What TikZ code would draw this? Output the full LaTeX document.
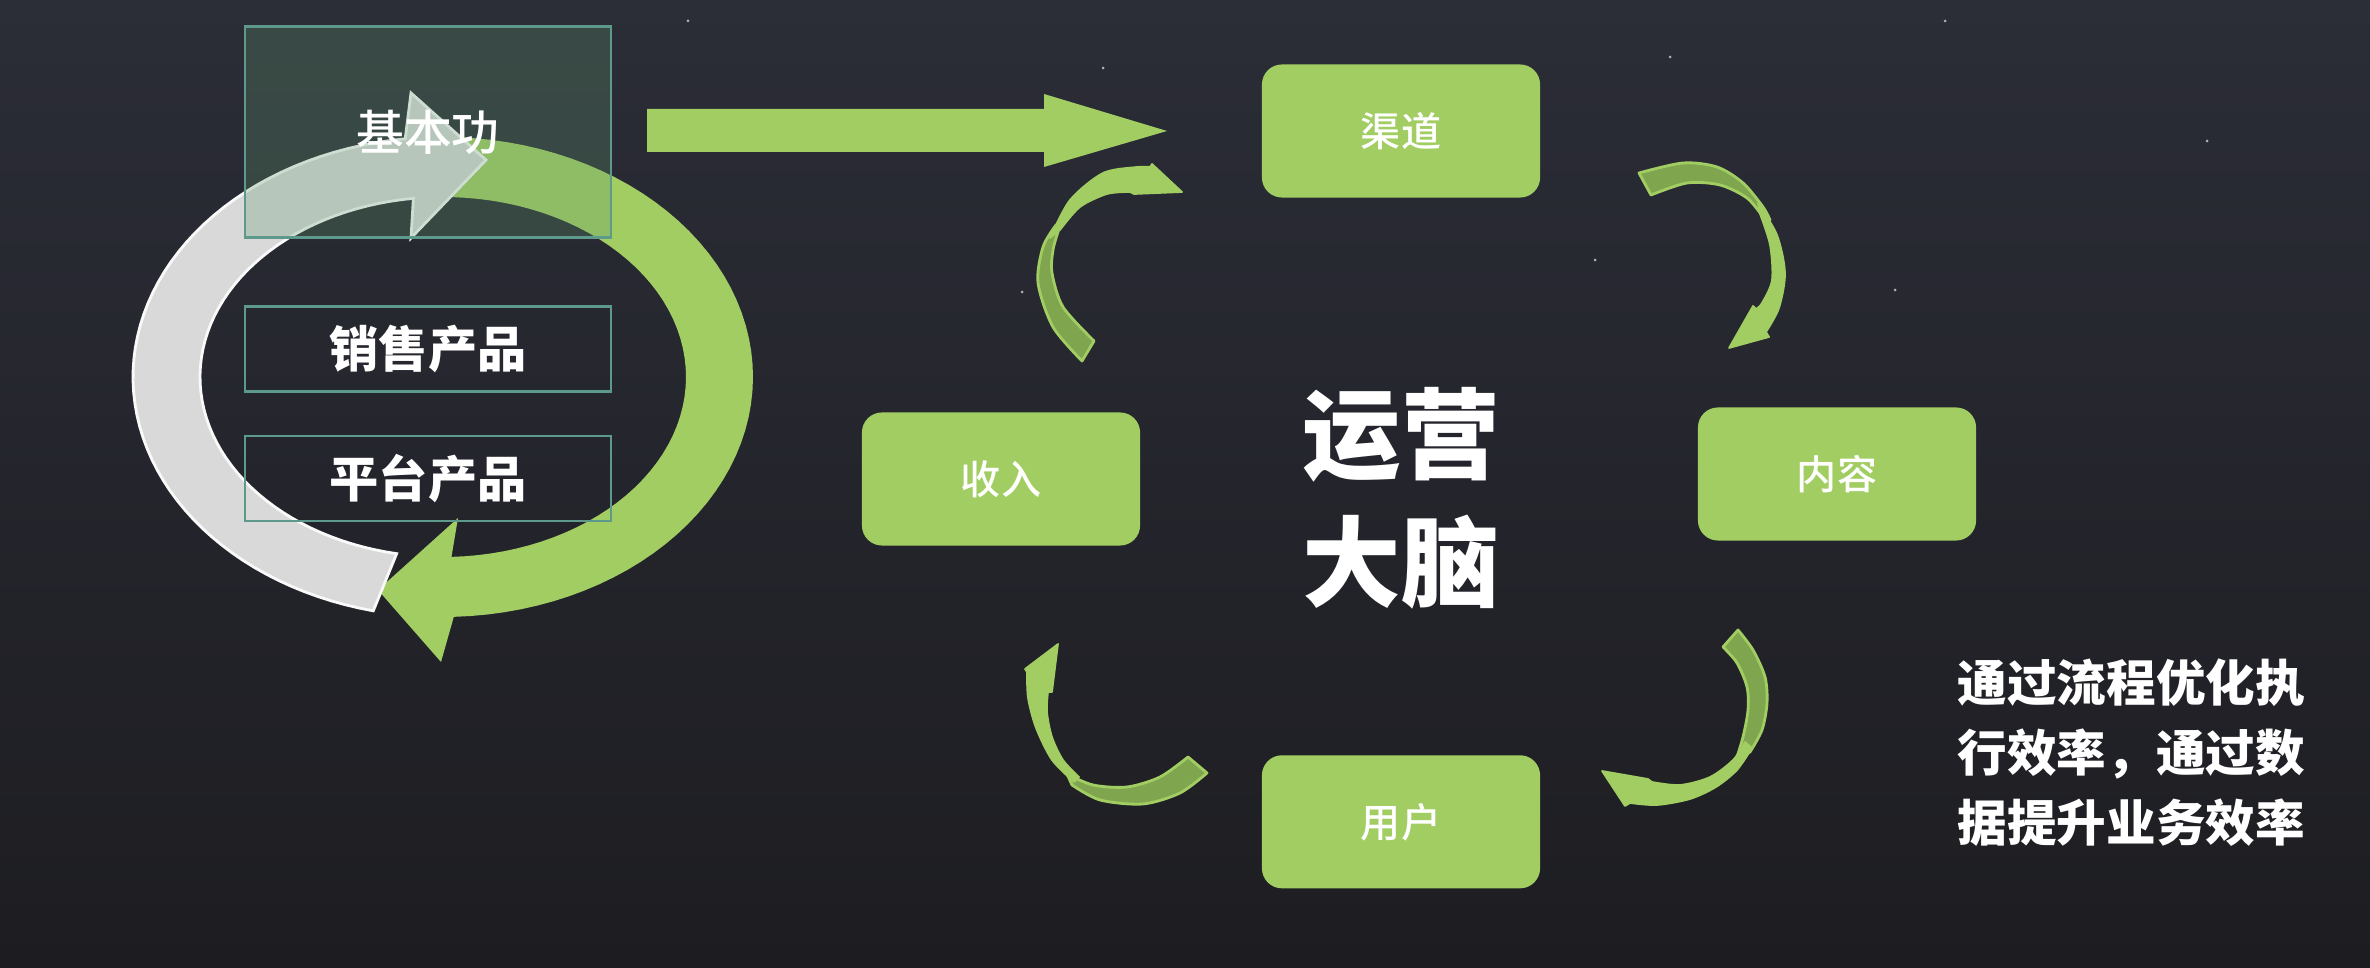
\documentclass[tikz,border=0pt]{standalone}
\usepackage{fontspec}
\setmainfont{Noto Sans CJK SC}
\newfontfamily\cjkmed{Noto Sans CJK SC Medium}
\usetikzlibrary{positioning}

\definecolor{leaf}{RGB}{161,205,99}
\definecolor{leafdark}{RGB}{127,166,78}
\definecolor{frameteal}{RGB}{94,154,140}
\definecolor{boxfill}{RGB}{96,150,110}
\definecolor{ringgray}{RGB}{217,217,217}
\definecolor{bgtop}{RGB}{43,45,55}
\definecolor{bgbot}{RGB}{29,29,33}

\begin{document}
\begin{tikzpicture}[x=0.01cm,y=-0.01cm,
    green box/.style={rectangle,rounded corners=0.2cm,fill=leaf,text=white,
                      minimum width=2.78cm,minimum height=1.33cm,
                      font=\cjkmed\fontsize{11.4}{14}\selectfont},
    frame box/.style={rectangle,draw=frameteal,line width=0.75pt,text=white,
                      minimum width=3.66cm,minimum height=0.85cm,
                      font=\fontsize{14}{16}\selectfont\bfseries},
    ribbon back/.style={fill=leafdark,draw=leaf,line width=0.8pt,line join=round},
    ribbon front/.style={fill=leaf,draw=leaf,line width=0.5pt,line join=round}]

  \shade[top color=bgtop,bottom color=bgbot] (0,0) rectangle (2370,968);
  \useasboundingbox (0,0) rectangle (2370,968);
  \foreach \p in {(688,21),(1103,68),(1670,57),(1945,21),(2207,141),(1595,260),(1895,290),(1022,292)}
    \fill[gray!60] \p circle (1.5);

  % ring on the left
  \fill[leaf] plot[domain=97:-88,samples=60,variable=\t] ({443+310*cos(\t)},{377-240*sin(\t)})
    -- (441,662) -- (378,590) -- (458,518)
    -- plot[domain=-88:97,samples=60,variable=\t] ({443+243*cos(\t)},{377-180*sin(\t)}) -- cycle;
  \filldraw[fill=ringgray,draw=white!95!gray,line width=0.8pt]
    plot[domain=257:97,samples=60,variable=\t] ({443+310*cos(\t)},{377-240*sin(\t)})
    -- (411,93) -- (486,160) -- (411,238)
    -- plot[domain=97:259,samples=60,variable=\t] ({443+243*cos(\t)},{377-180*sin(\t)}) -- cycle;

  \node[frame box,minimum height=2.11cm,fill=boxfill,fill opacity=0.28,text opacity=1,
        font=\cjkmed\fontsize{13.6}{16}\selectfont] (1) at (428,132) {基本功};
  \node[frame box,below=0.66cm of 1] (2) {销售产品};
  \node[frame box,below=0.42cm of 2] (3) {平台产品};

  \fill[leaf] (647,109) -- (1044,109) -- (1044,94) -- (1167,131) -- (1044,167)
    -- (1044,152) -- (647,152) -- cycle;

  % the cycle
  \node[green box] (4) at (1401,131) {渠道};
  \node[green box] (5) at (1837,474) {内容};
  \node[green box,below=5.56cm of 4] (6) {用户};
  \node[green box] (7) at (1001,479) {收入};

  \node[text=white,align=center,font=\fontsize{28}{36.4}\selectfont\bfseries] (8) at (1401,498) {运营\\大脑};

  \node[text=white,align=left,anchor=west,inner sep=0pt,
        font=\fontsize{14.1}{19.9}\selectfont\bfseries] (9) at (1957,753)
        {通过流程优化执\\行效率，通过数\\据提升业务效率};

  % 4 -> 5
  \filldraw[ribbon back] plot[smooth] coordinates {(1639,173) (1683,163) (1717,167) (1743,183) (1763,207) (1770,220)}
    -- plot[smooth] coordinates {(1763,217) (1747,198) (1720,185) (1687,183) (1651,195)} -- cycle;
  \filldraw[ribbon front] plot[smooth] coordinates {(1758,203) (1777,235) (1785,273) (1779,308) (1766,332)}
    -- (1769,337) -- (1729,348) -- (1753,306)
    -- plot[smooth] coordinates {(1756,309) (1762,303) (1772,280) (1770,245) (1760,214)} -- cycle;
  % 5 -> 6
  \filldraw[ribbon back] plot[smooth] coordinates {(1738,630) (1753,650) (1765,677) (1767,703) (1762,730) (1750,752)}
    -- plot[smooth] coordinates {(1736,760) (1743,737) (1748,710) (1747,687) (1737,663) (1723,647)} -- cycle;
  \filldraw[ribbon front] plot[smooth] coordinates {(1752,748) (1737,770) (1716,787) (1690,799) (1657,805) (1630,803)}
    -- (1625,806) -- (1602,771) -- (1648,779)
    -- plot[smooth] coordinates {(1652,782) (1680,785) (1710,777) (1733,760) (1745,742)} -- cycle;
  % 6 -> 7
  \filldraw[ribbon back] plot[smooth] coordinates {(1207,773) (1180,793) (1143,804) (1100,800) (1072,785)}
    -- plot[smooth] coordinates {(1067,774) (1093,785) (1127,787) (1160,777) (1188,757)} -- cycle;
  \filldraw[ribbon front] plot[smooth] coordinates {(1074,782) (1052,760) (1036,728) (1028,698) (1027,672)}
    -- (1025,669) -- (1058,644) -- (1052,692)
    -- plot[smooth] coordinates {(1048,692) (1047,712) (1052,737) (1063,760) (1079,777)} -- cycle;
  % 7 -> 4
  \filldraw[ribbon back] plot[smooth] coordinates {(1082,361) (1053,327) (1038,283) (1043,247) (1056,225)}
    -- plot[smooth] coordinates {(1058,232) (1053,250) (1052,273) (1063,307) (1094,341)} -- cycle;
  \filldraw[ribbon front] plot[smooth] coordinates {(1050,238) (1070,200) (1103,173) (1137,167) (1150,167)}
    -- (1152,164) -- (1182,192) -- (1134,194)
    -- plot[smooth] coordinates {(1130,192) (1107,194) (1080,207) (1060,230)} -- cycle;
\end{tikzpicture}
\end{document}
